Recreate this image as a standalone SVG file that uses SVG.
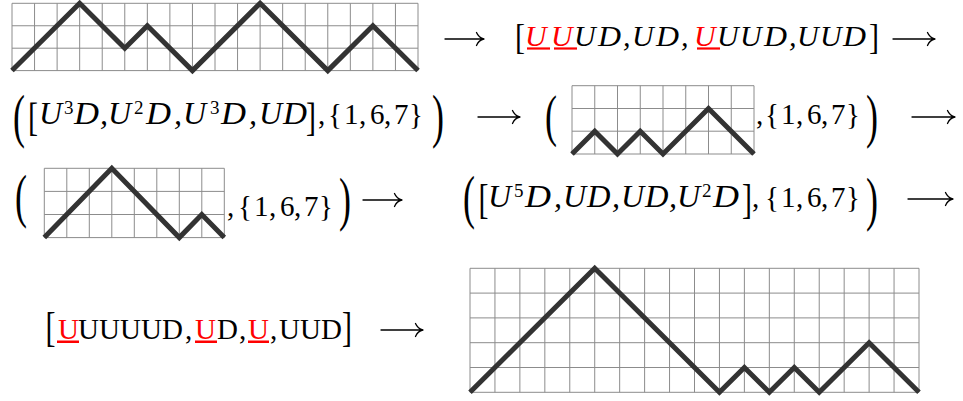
<svg xmlns="http://www.w3.org/2000/svg" width="963" height="401" viewBox="0 0 963 401">
<defs>
<style>
.grid{fill:none;stroke:#8c8c8c;stroke-width:1}
.walk{fill:none;stroke:#333;stroke-width:5;stroke-linejoin:miter;stroke-linecap:butt}
.mi{font-family:"Liberation Serif","Times New Roman",serif;font-style:italic;font-size:32px;fill:#000}
.mi1{font-family:"Liberation Serif","Times New Roman",serif;font-style:italic;font-size:30px;fill:#000}
.rm{font-family:"Liberation Serif","Times New Roman",serif;font-size:29px;fill:#000}
.sup{font-family:"Liberation Serif","Times New Roman",serif;font-size:19px;fill:#000}
.par{font-family:"Liberation Serif","Times New Roman",serif;font-size:36px;fill:#000}
.brk{font-family:"Liberation Serif","Times New Roman",serif;font-size:30px;fill:#000}
.red{fill:#ff0000}
.ul{fill:#ff0000}
.arr{fill:none;stroke:#000;stroke-width:1.3;stroke-linecap:round}
</style>
</defs>
<rect width="963" height="401" fill="#fff"/>

<!-- Stage 1: first Dyck path -->
<g id="path1">
<path class="grid" d="M12 3.3H418M12 25.75H418M12 48.2H418M12 70.6H418M12 3.3V70.6M34.56 3.3V70.6M57.11 3.3V70.6M79.67 3.3V70.6M102.22 3.3V70.6M124.78 3.3V70.6M147.33 3.3V70.6M169.89 3.3V70.6M192.44 3.3V70.6M215 3.3V70.6M237.56 3.3V70.6M260.11 3.3V70.6M282.67 3.3V70.6M305.22 3.3V70.6M327.78 3.3V70.6M350.33 3.3V70.6M372.89 3.3V70.6M395.44 3.3V70.6M418 3.3V70.6"/>
<path class="walk" d="M12 70.6L79.67 3.3L124.78 48.2L147.33 25.75L192.44 70.6L260.11 3.3L327.78 70.6L372.89 25.75L418 70.6"/>
</g>

<!-- Stage 2: word list -->
<g id="words1">
<text class="brk" transform="translate(515,49.3) scale(1,1.22)">[</text>
<text class="mi1 red" x="525" y="46">U</text>
<text class="mi1 red" x="551" y="46">U</text>
<text class="mi1" x="574" y="46">U</text>
<text class="mi1" x="598" y="46" textLength="23" lengthAdjust="spacingAndGlyphs">D</text>
<text class="mi1" x="623" y="46">,</text>
<text class="mi1" x="632" y="46">U</text>
<text class="mi1" x="656" y="46" textLength="23" lengthAdjust="spacingAndGlyphs">D</text>
<text class="mi1" x="681" y="46">,</text>
<text class="mi1 red" x="694" y="46">U</text>
<text class="mi1" x="717 740" y="46">UU</text>
<text class="mi1" x="764" y="46" textLength="23" lengthAdjust="spacingAndGlyphs">D</text>
<text class="mi1" x="789" y="46">,</text>
<text class="mi1" x="797 820" y="46">UU</text>
<text class="mi1" x="843" y="46" textLength="23" lengthAdjust="spacingAndGlyphs">D</text>
<text class="brk" transform="translate(869,49.3) scale(1,1.22)">]</text>
<rect class="ul" x="527" y="47.4" width="23" height="2.2"/>
<rect class="ul" x="554" y="47.4" width="23" height="2.2"/>
<rect class="ul" x="697" y="47.4" width="23" height="2.2"/>
</g>

<!-- Stage 3 -->
<g id="pair1">
<text class="par" transform="translate(13,136.4) scale(1,1.66)">(</text>
<text class="brk" transform="translate(28,131) scale(1,1.3)">[</text>
<text class="mi" x="39" y="124">U</text>
<text class="sup" x="64" y="114">3</text>
<text class="mi" x="74" y="124" textLength="25" lengthAdjust="spacingAndGlyphs">D</text>
<text class="mi" x="100" y="124">,</text>
<text class="mi" x="108" y="124">U</text>
<text class="sup" x="134" y="114">2</text>
<text class="mi" x="146" y="124" textLength="25" lengthAdjust="spacingAndGlyphs">D</text>
<text class="mi" x="174" y="124">,</text>
<text class="mi" x="183" y="124">U</text>
<text class="sup" x="210" y="114">3</text>
<text class="mi" x="221" y="124" textLength="25" lengthAdjust="spacingAndGlyphs">D</text>
<text class="mi" x="249" y="124">,</text>
<text class="mi" x="259" y="124">U</text>
<text class="mi" x="283" y="124" textLength="24" lengthAdjust="spacingAndGlyphs">D</text>
<text class="brk" transform="translate(306,131) scale(1,1.3)">]</text>
<text class="rm" y="124"><tspan x="318">,</tspan><tspan x="328 344 359 370 384 394 409">{1,6,7}</tspan></text>
<text class="par" transform="translate(432,136.4) scale(1,1.66)">)</text>
</g>

<!-- Stage 4 -->
<g id="pair2">
<text class="par" transform="translate(545,135) scale(1,1.6)">(</text>
<path class="grid" d="M572 85.7H754M572 108.5H754M572 131.2H754M572 154H754M572 85.7V154M594.75 85.7V154M617.5 85.7V154M640.25 85.7V154M663 85.7V154M685.75 85.7V154M708.5 85.7V154M731.25 85.7V154M754 85.7V154"/>
<path class="walk" d="M572 154L594.75 131.2L617.5 154L640.25 131.2L663 154L708.5 108.5L754 154"/>
<text class="rm" y="124"><tspan x="756">,</tspan><tspan x="765 781 796 807 821 831 846">{1,6,7}</tspan></text>
<text class="par" transform="translate(866,136.4) scale(1,1.66)">)</text>
</g>

<!-- Stage 5 -->
<g id="pair3">
<text class="par" transform="translate(15,216.4) scale(1,1.66)">(</text>
<path class="grid" d="M44.3 168.3H224.3M44.3 191.4H224.3M44.3 214.5H224.3M44.3 237.6H224.3M44.3 168.3V237.6M66.8 168.3V237.6M89.3 168.3V237.6M111.8 168.3V237.6M134.3 168.3V237.6M156.8 168.3V237.6M179.3 168.3V237.6M201.8 168.3V237.6M224.3 168.3V237.6"/>
<path class="walk" d="M44.3 237.6L111.8 168.3L179.3 237.6L201.8 214.5L224.3 237.6"/>
<text class="rm" y="216"><tspan x="227">,</tspan><tspan x="238 254 269 280 294 304 319">{1,6,7}</tspan></text>
<text class="par" transform="translate(339,219.4) scale(1,1.66)">)</text>
</g>

<!-- Stage 6 -->
<g id="pair4">
<text class="par" transform="translate(463,217) scale(1,1.66)">(</text>
<text class="brk" transform="translate(478.5,213.3) scale(1,1.42)">[</text>
<text class="mi" x="488" y="207">U</text>
<text class="sup" x="514" y="197">5</text>
<text class="mi" x="525" y="207" textLength="26" lengthAdjust="spacingAndGlyphs">D</text>
<text class="mi" x="554" y="207">,</text>
<text class="mi" x="563" y="207">U</text>
<text class="mi" x="587" y="207" textLength="23.5" lengthAdjust="spacingAndGlyphs">D</text>
<text class="mi" x="612" y="207">,</text>
<text class="mi" x="621" y="207">U</text>
<text class="mi" x="645" y="207" textLength="23.5" lengthAdjust="spacingAndGlyphs">D</text>
<text class="mi" x="669" y="207">,</text>
<text class="mi" x="677" y="207">U</text>
<text class="sup" x="702" y="197">2</text>
<text class="mi" x="713" y="207" textLength="26" lengthAdjust="spacingAndGlyphs">D</text>
<text class="brk" transform="translate(742,213.3) scale(1,1.42)">]</text>
<text class="rm" y="207"><tspan x="752">,</tspan><tspan x="765 781 796 807 821 831 846">{1,6,7}</tspan></text>
<text class="par" transform="translate(866,219.4) scale(1,1.66)">)</text>
</g>

<!-- Stage 7 -->
<g id="words2">
<text class="brk" transform="translate(45.5,341.3) scale(1,1.42)">[</text>
<text class="rm" y="339"><tspan class="red" x="58">U</tspan><tspan x="78 99 120 141 162">UUUUD</tspan><tspan x="185">,</tspan><tspan class="red" x="195">U</tspan><tspan x="217">D</tspan><tspan x="239">,</tspan><tspan class="red" x="248">U</tspan><tspan x="270">,</tspan><tspan x="279 300 321">UUD</tspan></text>
<text class="brk" transform="translate(342,341.3) scale(1,1.42)">]</text>
<rect class="ul" x="57" y="340.5" width="22" height="2.5"/>
<rect class="ul" x="195" y="340.5" width="22" height="2.5"/>
<rect class="ul" x="248" y="340.5" width="21" height="2.5"/>
</g>

<!-- Stage 8: final Dyck path -->
<g id="path2">
<path class="grid" d="M470 268.3H919M470 293.1H919M470 317.9H919M470 342.7H919M470 367.5H919M470 392.3H919M470 268.3V392.3M494.94 268.3V392.3M519.89 268.3V392.3M544.83 268.3V392.3M569.78 268.3V392.3M594.72 268.3V392.3M619.67 268.3V392.3M644.61 268.3V392.3M669.56 268.3V392.3M694.5 268.3V392.3M719.44 268.3V392.3M744.39 268.3V392.3M769.33 268.3V392.3M794.28 268.3V392.3M819.22 268.3V392.3M844.17 268.3V392.3M869.11 268.3V392.3M894.06 268.3V392.3M919 268.3V392.3"/>
<path class="walk" d="M470 392.3L594.72 268.3L719.44 392.3L744.39 367.5L769.33 392.3L794.28 367.5L819.22 392.3L869.11 342.7L919 392.3"/>
</g>

<!-- Connectors -->
<g id="connectors">
<path class="arr" d="M445 39H484M476.5 32.5C478 36 481 38.3 484 39C481 39.7 478 42 476.5 45.5"/>
<path class="arr" d="M893 39H935M927.5 32.5C929 36 932 38.3 935 39C932 39.7 929 42 927.5 45.5"/>
<path class="arr" d="M478 117H520M512.5 110.5C514 114 517 116.3 520 117C517 117.7 514 120 512.5 123.5"/>
<path class="arr" d="M912 117H955M947.5 110.5C949 114 952 116.3 955 117C952 117.7 949 120 947.5 123.5"/>
<path class="arr" d="M363 200H402M394.5 193.5C396 197 399 199.3 402 200C399 200.7 396 203 394.5 206.5"/>
<path class="arr" d="M908 199H953M945.5 192.5C947 196 950 198.3 953 199C950 199.7 947 202 945.5 205.5"/>
<path class="arr" d="M381 330H423M415.5 323.5C417 327 420 329.3 423 330C420 330.7 417 333 415.5 336.5"/>
</g>
</svg>
